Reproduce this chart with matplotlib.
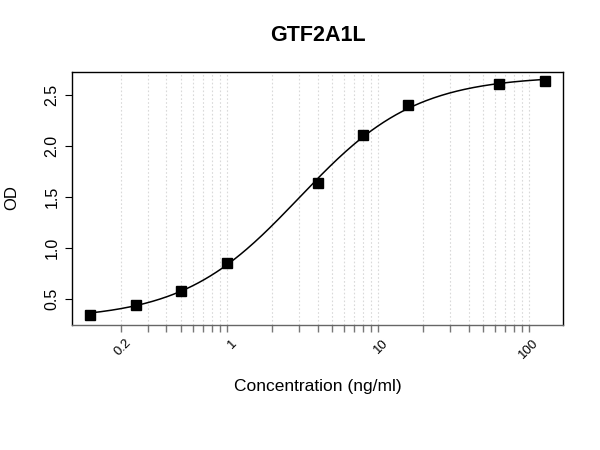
import numpy as np
import matplotlib
matplotlib.use("Agg")
import matplotlib.pyplot as plt

plt.rcParams['font.family'] = ['Liberation Sans', 'DejaVu Sans']

title = "GTF2A1L"
conc = [0.125, 0.25, 0.5, 1, 4, 8, 16, 64, 128]
od = [0.337, 0.441, 0.578, 0.848, 1.634, 2.100, 2.395, 2.607, 2.633]
xtick_vals = [0.2, 1, 10, 100]
xtick_labels = ["0.2", "1", "10", "100"]
ytick_vals = [0.5, 1.0, 1.5, 2.0, 2.5]

x = np.array(conc, float)
y = np.array(od, float)

def f4(p, xx):
    A, B, C, D = p
    return D + (A - D) / (1.0 + (xx / C) ** B)

# 4PL least-squares fit (damped Gauss-Newton)
p = np.array([0.28, 1.1, 3.2, 2.68])
lam = 1e-3
for _ in range(200):
    r = y - f4(p, x)
    J = np.zeros((len(x), 4))
    for k in range(4):
        dp = np.zeros(4); dp[k] = 1e-6 * max(abs(p[k]), 1e-3)
        J[:, k] = (f4(p + dp, x) - f4(p, x)) / dp[k]
    H = J.T @ J
    step = np.linalg.solve(H + lam * np.diag(np.diag(H)), J.T @ r)
    pn = p + step
    if pn[2] > 0 and np.sum((y - f4(pn, x)) ** 2) < np.sum(r ** 2):
        p = pn; lam *= 0.5
    else:
        lam *= 4

fig = plt.figure(figsize=(6, 4.5), dpi=100)
ax = fig.add_axes([72/600, 1-324.5/450, (563-72)/600, (324.5-71.7)/450])
ax.set_xscale('log')

lx = np.log10(x)
rx = lx.max() - lx.min()
ax.set_xlim(10 ** (lx.min() - 0.04 * rx), 10 ** (lx.max() + 0.04 * rx))
ry = y.max() - y.min()
ax.set_ylim(y.min() - 0.04 * ry, y.max() + 0.04 * ry)

# minor log grid
grid_vals = [m * 10.0 ** e for e in range(-1, 3) for m in range(1, 10)]
xl = ax.get_xlim()
grid_vals = [g for g in grid_vals if 0.15 < g < xl[1]]
for g in grid_vals:
    ax.axvline(g, color='#d9d9d9', lw=0.8, ls=(0, (1.5, 2)), zorder=0)

xs = np.logspace(lx.min(), lx.max(), 300)
ax.plot(xs, f4(p, xs), color='black', lw=1.1, zorder=2)
ax.plot(x, y, 's', color='black', ms=7.8, zorder=3)

ax.set_xticks(grid_vals)
ax.set_xticklabels([])
ax.xaxis.set_minor_locator(matplotlib.ticker.NullLocator())
ax.tick_params(axis='x', length=5, width=1, color='#777777', direction='out')
for v, lab in zip(xtick_vals, xtick_labels):
    ax.annotate(lab, xy=(v, 0), xycoords=('data', 'axes fraction'),
                xytext=(3, -9), textcoords='offset points',
                rotation=45, ha='right', va='top', rotation_mode='anchor',
                fontsize=9.5)

ax.set_yticks(ytick_vals)
ax.set_yticklabels([f"{v:.1f}" for v in ytick_vals], rotation=90, va='center', fontsize=11.5)
ax.tick_params(axis='y', length=5, width=0.8, direction='out', pad=4)

for s in ax.spines.values():
    s.set_linewidth(1.0)
ax.spines['bottom'].set_color('#666666')

cx = (72 + 563) / 2 / 600
fig.text(cx, 1-35.5/450, title, ha='center', va='center', fontsize=15.5, fontweight='bold')
fig.text(cx, 1-386/450, "Concentration (ng/ml)", ha='center', va='center', fontsize=12.5)
fig.text(12/600, 1-198/450, "OD", ha='center', va='center', rotation=90, fontsize=12)

fig.savefig("out.png", dpi=100)
